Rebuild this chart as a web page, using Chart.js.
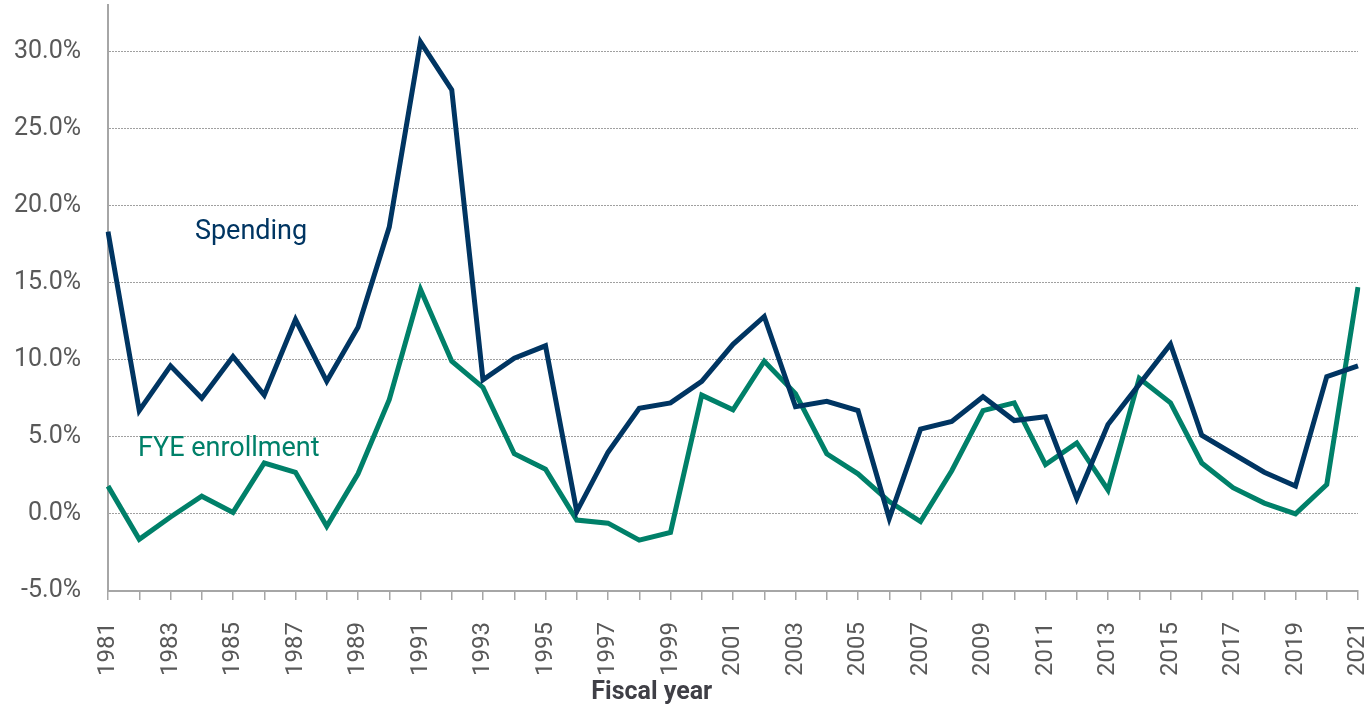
<!DOCTYPE html>
<html>
<head>
<meta charset="utf-8">
<script src="https://cdn.jsdelivr.net/npm/chart.js@4/dist/chart.umd.min.js"></script>
<style>
html,body{margin:0;padding:0;background:#fff;}
#wrap{width:1371px;height:707px;position:relative;}
</style>
</head>
<body>
<div id="wrap"><canvas id="c" width="1371" height="707"></canvas></div>
<script>
const years = [];
for (let y = 1981; y <= 2021; y++) years.push(String(y));

const spending = [18.3, 6.7, 9.6, 7.5, 10.2, 7.7, 12.6, 8.6, 12.1, 18.6,
  30.6, 27.5, 8.7, 10.1, 10.9, 0.15, 4.0, 6.85, 7.2, 8.6,
  11.0, 12.8, 6.95, 7.3, 6.7, -0.3, 5.5, 6.0, 7.6, 6.05,
  6.3, 1.0, 5.8, 8.4, 11.0, 5.1, 3.9, 2.7, 1.8, 8.9, 9.6];

const enrollment = [1.8, -1.65, -0.2, 1.15, 0.1, 3.3, 2.7, -0.8, 2.6, 7.4,
  14.55, 9.9, 8.2, 3.9, 2.9, -0.4, -0.6, -1.7, -1.2, 7.7,
  6.75, 9.9, 7.8, 3.9, 2.6, 0.8, -0.5, 2.8, 6.7, 7.2,
  3.2, 4.6, 1.55, 8.8, 7.2, 3.3, 1.7, 0.7, 0.0, 1.9, 14.7];

const seriesNames = ['Spending', 'FYE enrollment'];
const seriesColors = ['#003562', '#008069'];
const yTicks = [-5, 0, 5, 10, 15, 20, 25, 30];
const xTitle = 'Fiscal year';

const labelPlugin = {
  id: 'seriesLabels',
  afterDatasetsDraw(chart) {
    const ctx = chart.ctx;
    const xs = chart.scales.x, ys = chart.scales.y;
    const step = (xs.right - xs.left) / (years.length - 1);
    const spots = [
      {text: seriesNames[0], color: seriesColors[0], i: 2.78, v: 17.8},
      {text: seriesNames[1], color: seriesColors[1], i: 0.96, v: 3.78}
    ];
    ctx.save();
    ctx.font = '27px Roboto';
    ctx.textAlign = 'left';
    ctx.textBaseline = 'alphabetic';
    spots.forEach(s => {
      ctx.fillStyle = s.color;
      ctx.fillText(s.text, xs.left + step * s.i, ys.getPixelForValue(s.v));
    });
    // axis title (placed left of centre as in the original)
    ctx.font = 'bold 25px "Liberation Sans Narrow", Roboto';
    ctx.fillStyle = '#3f3f46';
    ctx.textAlign = 'center';
    ctx.fillText(xTitle, xs.left + step * 17.4, 699);
    ctx.restore();
  }
};

new Chart(document.getElementById('c'), {
  type: 'line',
  data: {
    labels: years,
    datasets: [
      {label: seriesNames[0], data: spending, borderColor: seriesColors[0], borderWidth: 5, pointRadius: 0, tension: 0, fill: false, borderJoinStyle: 'miter'},
      {label: seriesNames[1], data: enrollment, borderColor: seriesColors[1], borderWidth: 5, pointRadius: 0, tension: 0, fill: false, borderJoinStyle: 'miter'}
    ]
  },
  plugins: [labelPlugin],
  options: {
    responsive: false,
    animation: false,
    events: [],
    layout: {padding: {top: 5, right: 13, left: 0, bottom: 0}},
    plugins: {legend: {display: false}, tooltip: {enabled: false}},
    scales: {
      x: {
        offset: false,
        afterFit(scale) { scale.height = 116; scale.paddingLeft = 0; scale.paddingRight = 0; scale.paddingTop = 0; scale.paddingBottom = 0; },
        grid: {display: true, drawOnChartArea: false, drawTicks: true, tickLength: 9, tickColor: '#a6a6a6', lineWidth: 1.5},
        border: {display: true, color: '#a6a6a6', width: 2},
        ticks: {
          autoSkip: false, minRotation: 90, maxRotation: 90, padding: 22,
          color: '#595959', font: {family: 'Roboto', size: 24},
          callback(v, i) { return i % 2 === 0 ? years[i] : ''; }
        },
        title: {display: false}
      },
      y: {
        min: -5, max: 33,
        afterFit(scale) { scale.width = 108; scale.paddingTop = 0; scale.paddingBottom = 0; scale.paddingLeft = 0; scale.paddingRight = 0; },
        afterBuildTicks(scale) { scale.ticks = yTicks.map(v => ({value: v})); },
        grid: {display: true, drawTicks: false, color: '#a0a0a0', lineWidth: 1},
        border: {display: true, color: '#a6a6a6', width: 2, dash: [2, 1]},
        ticks: {
          padding: 27, color: '#595959', font: {family: 'Roboto', size: 25},
          callback(v) { return v.toFixed(1) + '%'; }
        }
      }
    }
  },
});
</script>
</body>
</html>
